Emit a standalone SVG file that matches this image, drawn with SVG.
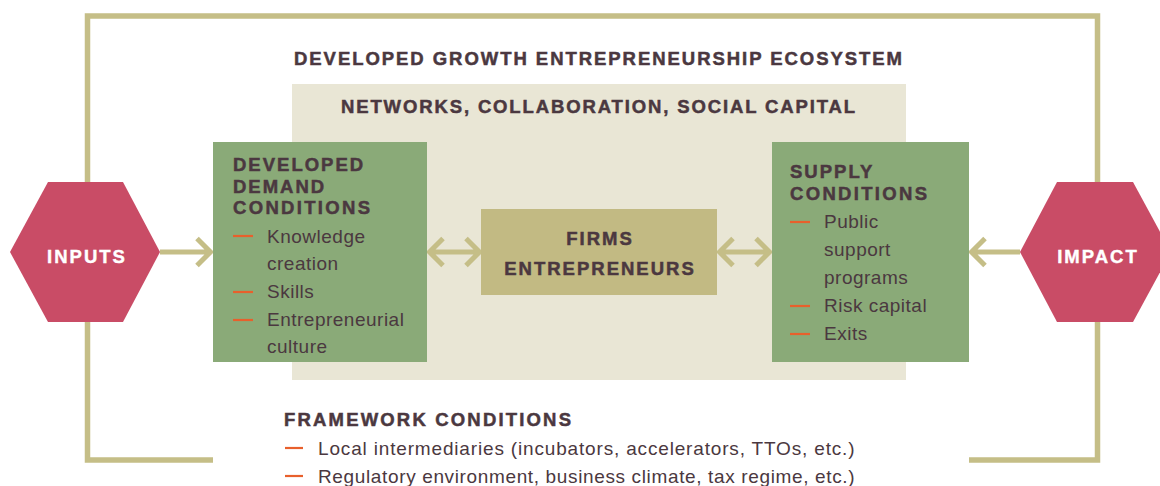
<svg xmlns="http://www.w3.org/2000/svg" width="1160" height="486" viewBox="0 0 1160 486">
  <style>
    .frame { fill: none; stroke: #C5BE87; stroke-width: 5.5; }
    .conn { fill: none; stroke: #C5BE87; stroke-width: 5; stroke-linecap: butt; stroke-linejoin: miter; }
    .hex { fill: #C94C66; }
    .green { fill: #8AAA78; }
    .head { font-family: "Liberation Sans", Arial, sans-serif; font-weight: bold; font-size: 18.5px; letter-spacing: 2px; fill: #4B3840; stroke: #4B3840; stroke-width: 0.5px; }
    .hexlabel { font-family: "Liberation Sans", Arial, sans-serif; font-weight: bold; font-size: 18.5px; letter-spacing: 2px; fill: #FFFFFF; stroke: #FFFFFF; stroke-width: 0.4px; }
    .body { font-family: "Liberation Sans", Arial, sans-serif; font-size: 19px; letter-spacing: 0.5px; fill: #4B3840; }
    .dash { stroke: #E8602C; stroke-width: 2.2; }
  </style>

  <!-- outer ecosystem frame, open at the bottom -->
  <path class="frame" d="M213,460 H87.5 V16 H1097.5 V460 H969"/>

  <text class="head" x="294" y="65" textLength="610">DEVELOPED GROWTH ENTREPRENEURSHIP ECOSYSTEM</text>

  <!-- networks panel -->
  <g id="networks">
    <rect x="292" y="84" width="614" height="296" fill="#E9E6D5"/>
    <text class="head" x="341" y="113" textLength="516">NETWORKS, COLLABORATION, SOCIAL CAPITAL</text>
  </g>

  <!-- connectors -->
  <g id="connectors">
    <path class="conn" d="M160,252 H210 M197,238.5 L210.5,252 L197,265.5"/>
    <path class="conn" d="M1020,252 H972 M985,238.5 L971.5,252 L985,265.5"/>
    <path class="conn" d="M430,252 H479 M443,238.5 L429.5,252 L443,265.5 M466,238.5 L479.5,252 L466,265.5"/>
    <path class="conn" d="M720,252 H769 M733,238.5 L719.5,252 L733,265.5 M756,238.5 L769.5,252 L756,265.5"/>
  </g>

  <g id="inputs">
    <polygon class="hex" points="10,252 48,182 123,182 160,252 123,322 48,322"/>
    <text class="hexlabel" x="87" y="263" text-anchor="middle">INPUTS</text>
  </g>

  <g id="impact">
    <polygon class="hex" points="1020,252 1057,182 1133,182 1171,252 1133,322 1057,322"/>
    <text class="hexlabel" x="1098" y="263" text-anchor="middle">IMPACT</text>
  </g>

  <g id="demand">
    <rect class="green" x="213" y="142" width="214" height="220"/>
    <text class="head" x="233" y="171">DEVELOPED</text>
    <text class="head" x="233" y="193">DEMAND</text>
    <text class="head" x="233" y="214" textLength="139">CONDITIONS</text>
    <line class="dash" x1="233" y1="236" x2="253" y2="236"/>
    <line class="dash" x1="233" y1="292" x2="253" y2="292"/>
    <line class="dash" x1="233" y1="320" x2="253" y2="320"/>
    <text class="body" x="267" y="243">Knowledge</text>
    <text class="body" x="267" y="270">creation</text>
    <text class="body" x="267" y="298">Skills</text>
    <text class="body" x="267" y="326">Entrepreneurial</text>
    <text class="body" x="267" y="353">culture</text>
  </g>

  <g id="firms">
    <rect x="481" y="209" width="236" height="86" fill="#C2BA83"/>
    <text class="head" x="600" y="245" text-anchor="middle">FIRMS</text>
    <text class="head" x="600" y="275" text-anchor="middle">ENTREPRENEURS</text>
  </g>

  <g id="supply">
    <rect class="green" x="772" y="142" width="197" height="220"/>
    <text class="head" x="790" y="178">SUPPLY</text>
    <text class="head" x="790" y="200" textLength="139">CONDITIONS</text>
    <line class="dash" x1="790" y1="222" x2="810" y2="222"/>
    <line class="dash" x1="790" y1="306" x2="810" y2="306"/>
    <line class="dash" x1="790" y1="334" x2="810" y2="334"/>
    <text class="body" x="824" y="228">Public</text>
    <text class="body" x="824" y="256">support</text>
    <text class="body" x="824" y="284">programs</text>
    <text class="body" x="824" y="312">Risk capital</text>
    <text class="body" x="824" y="340">Exits</text>
  </g>

  <g id="framework">
    <text class="head" x="284" y="426" textLength="289">FRAMEWORK CONDITIONS</text>
    <line class="dash" x1="285" y1="448" x2="303" y2="448"/>
    <line class="dash" x1="285" y1="476" x2="303" y2="476"/>
    <text class="body" x="318" y="455" textLength="537">Local intermediaries (incubators, accelerators, TTOs, etc.)</text>
    <text class="body" x="318" y="483" textLength="537">Regulatory environment, business climate, tax regime, etc.)</text>
  </g>
</svg>
